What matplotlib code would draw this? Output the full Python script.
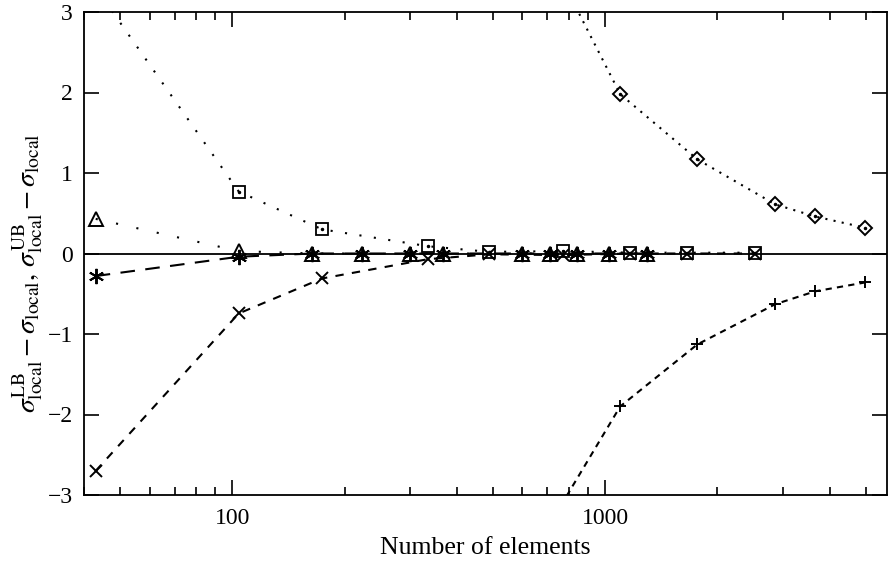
import numpy as np
import matplotlib
matplotlib.use('Agg')
import matplotlib.pyplot as plt

plt.rcParams['font.family'] = 'Liberation Serif'
plt.rcParams['mathtext.fontset'] = 'stix'

# element type A: upper bound (squares) and lower bound (crosses)
n_a = [43, 104, 174, 335, 489, 771, 1166, 1660, 2523]
ub_a = [3.3, 0.77, 0.30, 0.09, 0.02, 0.03, 0.01, 0.01, 0.01]
lb_a = [-2.7, -0.745, -0.31, -0.07, -0.01, -0.02, 0.0, 0.0, 0.0]

# element type B: upper bound (triangles) and lower bound (asterisks)
n_b = [43, 104, 164, 223, 300, 368, 599, 712, 842, 1025, 1297]
ub_b = [0.43, 0.03, 0.0, 0.0, 0.0, 0.0, 0.0, 0.0, 0.0, 0.0, 0.0]
lb_b = [-0.28, -0.04, 0.0, 0.0, 0.0, 0.0, 0.0, 0.0, 0.0, 0.0, 0.0]

# element type C: upper bound (diamonds) and lower bound (plus)
n_c = [600, 1097, 1766, 2858, 3656, 4977]
ub_c = [4.36, 1.98, 1.17, 0.61, 0.46, 0.32]
lb_c = [-3.93, -1.90, -1.13, -0.63, -0.47, -0.36]

fig = plt.figure(figsize=(8.88, 5.64), dpi=100)
ax = fig.add_axes([84/888, 1 - 495/564, 803/888, 483/564])

ax.axhline(0, color='black', lw=1.3, zorder=1)

# centre dots for the boxed markers
ax.plot(n_a, ub_a, color='black', lw=1.5, dashes=(1, 6), marker='s', ms=9,
        mfc='none', mew=1.3)
ax.plot(n_a, ub_a, ls='none', marker='.', ms=3, color='black')
ax.plot(n_a, lb_a, color='black', lw=1.5, dashes=(4, 4), marker='x', ms=9, mew=1.4)

ax.plot(n_b, ub_b, color='black', lw=1.5, dashes=(1, 9), marker='^', ms=10,
        mfc='none', mew=1.4)
ax.plot(n_b, lb_b, color='black', lw=1.5, dashes=(7, 5), marker=(6, 2, 0), ms=11, mew=1.4)

ax.plot(n_c, ub_c, color='black', lw=1.5, dashes=(1, 3), marker='D', ms=7,
        mfc='none', mew=1.4)
ax.plot(n_c, ub_c, ls='none', marker='.', ms=3, color='black')
ax.plot(n_c, lb_c, color='black', lw=1.5, dashes=(3, 2.5), marker='+', ms=9, mew=1.4)

ax.set_xscale('log')
ax.set_xlim(40, 5700)
ax.set_ylim(-3, 3)
ax.set_yticks([-3, -2, -1, 0, 1, 2, 3])
ax.set_yticklabels(['\u22123', '\u22122', '\u22121', '0', '1', '2', '3'])
ax.set_xticks([100, 1000])
ax.set_xticklabels(['100', '1000'])

ax.tick_params(which='both', direction='in', top=True, right=True, labelsize=17, width=1.2)
ax.tick_params(axis='x', which='major', length=11, pad=9)
ax.tick_params(axis='y', which='major', length=11, pad=8)
ax.tick_params(which='minor', length=6)
for s in ax.spines.values():
    s.set_linewidth(1.3)

ax.set_xlabel('Number of elements', fontsize=18.5, labelpad=6)
ax.set_ylabel(r'$\sigma^{\rm LB}_{\rm local}-\sigma_{\rm local},\,\sigma^{\rm UB}_{\rm local}-\sigma_{\rm local}$',
              fontsize=20)
ax.yaxis.set_label_coords(-0.048, 0.46)

fig.savefig('out.png', dpi=100)
